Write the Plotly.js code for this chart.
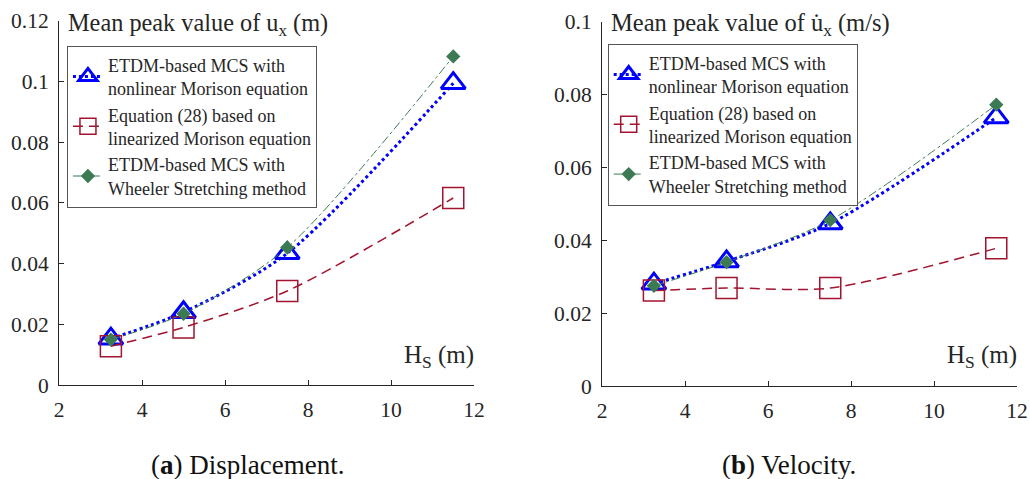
<!DOCTYPE html>
<html><head><meta charset="utf-8">
<script src="https://cdn.plot.ly/plotly-3.0.1.min.js"></script>
<style>body{margin:0;background:#fff}#c{width:1030px;height:479px}</style>
</head><body><div id="c"></div>
<script>
const hs = [3.25, 5, 7.5, 11.5];
const dispNonlinear = [0.0153, 0.0240, 0.0434, 0.0994];
const dispLinearized = [0.0128, 0.0190, 0.0310, 0.0616];
const dispWheeler = [0.0150, 0.0235, 0.0453, 0.1082];
const velNonlinear = [0.0281, 0.0342, 0.0446, 0.0737];
const velLinearized = [0.0262, 0.0269, 0.0269, 0.0378];
const velWheeler = [0.0275, 0.0340, 0.0455, 0.0772];
const names = ["ETDM-based MCS with<br>nonlinear Morison equation",
               "Equation (28) based on<br>linearized Morison equation",
               "ETDM-based MCS with<br>Wheeler Stretching method"];
const xTicks = [2, 4, 6, 8, 10, 12];

const BLUE = '#0000ff', RED = '#a2142f', GREEN = '#3b7a52', TXT = '#262626';
const serif = '"Times New Roman", "Liberation Serif", serif';

function traces(xa, ya, leg, ys) {
  return [
    {x: hs, y: ys[0], xaxis: xa, yaxis: ya, legend: leg, name: names[0], mode: 'lines+markers',
     line: {color: BLUE, width: 3, dash: 'dot', shape: 'spline', smoothing: 0.8},
     marker: {symbol: 'triangle-up-open', size: 21, color: BLUE, line: {width: 3, color: BLUE}}},
    {x: hs, y: ys[1], xaxis: xa, yaxis: ya, legend: leg, name: names[1], mode: 'lines+markers',
     line: {color: RED, width: 1.5, dash: '10px,6px', shape: 'spline', smoothing: 0.8},
     marker: {symbol: 'square-open', size: 21, color: RED, line: {width: 1.5, color: RED}}},
    {x: hs, y: ys[2], xaxis: xa, yaxis: ya, legend: leg, name: names[2], mode: 'lines+markers',
     line: {color: GREEN, width: 1, dash: 'dashdot', shape: 'spline', smoothing: 0.8},
     marker: {symbol: 'diamond', size: 11, color: GREEN}}
  ];
}

const data = [
  ...traces('x', 'y', 'legend', [dispNonlinear, dispLinearized, dispWheeler]),
  ...traces('x2', 'y2', 'legend2', [velNonlinear, velLinearized, velWheeler])
];

const ax = {showline: true, linecolor: TXT, linewidth: 1, ticks: 'inside', ticklen: 5, tickcolor: TXT,
  showgrid: false, zeroline: false, mirror: false, ticklabelstandoff: 5,
  tickfont: {family: serif, size: 21.5, color: TXT}};

const legendBase = {bgcolor: '#fff', bordercolor: '#555', borderwidth: 1, xanchor: 'left', yanchor: 'top',
  font: {family: serif, size: 18, color: TXT}, traceorder: 'normal', itemwidth: 30};

const layout = {
  width: 1030, height: 479, margin: {l: 0, r: 0, t: 0, b: 0},
  paper_bgcolor: '#fff', plot_bgcolor: '#fff', font: {family: serif, color: TXT},
  xaxis: {...ax, domain: [0.0573, 0.4602], range: [2, 12], tickvals: xTicks, anchor: 'y'},
  yaxis: {...ax, domain: [0.196, 0.957], range: [0, 0.12], dtick: 0.02, anchor: 'x'},
  xaxis2: {...ax, domain: [0.5845, 0.9874], range: [2, 12], tickvals: xTicks, anchor: 'y2'},
  yaxis2: {...ax, domain: [0.194, 0.955], range: [0, 0.1], dtick: 0.02, anchor: 'x2'},
  legend: {...legendBase, x: 0.065, y: 0.905},
  legend2: {...legendBase, x: 0.590, y: 0.909},
  annotations: [
    {text: 'Mean peak value of u<sub>x</sub> (m)', xref: 'paper', yref: 'paper', x: 0.064, y: 0.985,
     xanchor: 'left', yanchor: 'top', showarrow: false, font: {family: serif, size: 24.3, color: TXT}},
    {text: 'Mean peak value of u\u0307<sub>x</sub> (m/s)', xref: 'paper', yref: 'paper', x: 0.591, y: 0.985,
     xanchor: 'left', yanchor: 'top', showarrow: false, font: {family: serif, size: 24.5, color: TXT}},
    {text: 'H<sub>S</sub> (m)', xref: 'paper', yref: 'paper', x: 0.462, y: 0.255,
     xanchor: 'right', yanchor: 'middle', showarrow: false, font: {family: serif, size: 25, color: TXT}},
    {text: 'H<sub>S</sub> (m)', xref: 'paper', yref: 'paper', x: 0.989, y: 0.255,
     xanchor: 'right', yanchor: 'middle', showarrow: false, font: {family: serif, size: 25, color: TXT}},
    {text: '(<b>a</b>) Displacement.', xref: 'paper', yref: 'paper', x: 0.240, y: 0.03,
     xanchor: 'center', yanchor: 'middle', showarrow: false, font: {family: serif, size: 27, color: '#111'}},
    {text: '(<b>b</b>) Velocity.', xref: 'paper', yref: 'paper', x: 0.766, y: 0.03,
     xanchor: 'center', yanchor: 'middle', showarrow: false, font: {family: serif, size: 27, color: '#111'}}
  ]
};

Plotly.newPlot('c', data, layout, {displayModeBar: false, staticPlot: true});
</script></body></html>
